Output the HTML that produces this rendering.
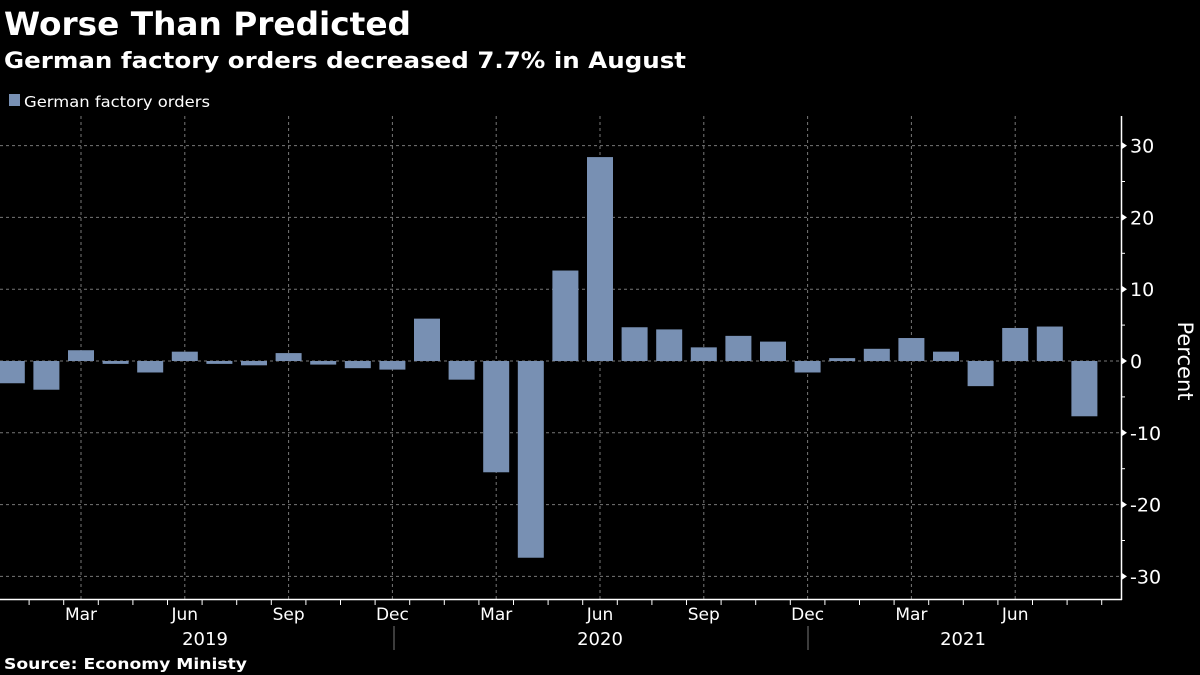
<!DOCTYPE html>
<html><head><meta charset="utf-8"><style>
body{margin:0;background:#000;width:1200px;height:675px;overflow:hidden}
svg{display:block;font-family:"DejaVu Sans","Liberation Sans",sans-serif}
</style></head><body>
<svg id="s" width="1200" height="675" xmlns="http://www.w3.org/2000/svg">
<text x="4" y="35" fill="#fff" font-size="32" font-weight="bold" textLength="407" lengthAdjust="spacingAndGlyphs">Worse Than Predicted</text>
<text x="4" y="68" fill="#fff" font-size="22" font-weight="bold" textLength="682" lengthAdjust="spacingAndGlyphs">German factory orders decreased 7.7% in August</text>
<rect x="9" y="94" width="11" height="12" fill="#7890b3"/>
<text x="24" y="107" fill="#fff" font-size="15" textLength="186" lengthAdjust="spacingAndGlyphs">German factory orders</text>
<text x="4" y="669" fill="#fff" font-size="15" font-weight="bold" textLength="243" lengthAdjust="spacingAndGlyphs">Source: Economy Ministy</text>
<text transform="translate(1178,361) rotate(90)" text-anchor="middle" fill="#fff" font-size="21">Percent</text>
</svg>
<script>
const s=document.getElementById('s'),NS='http://www.w3.org/2000/svg';
function el(t,a,txt){const e=document.createElementNS(NS,t);for(const k in a)e.setAttribute(k,a[k]);if(txt!=null)e.textContent=txt;s.appendChild(e);return e;}
const y0=361,k=7.18,x0=11.8,dx=34.6;
const Y=v=>y0-v*k;
[30,20,10,0,-10,-20,-30].forEach(v=>{
 el('line',{x1:0,x2:1121,y1:Y(v),y2:Y(v),stroke:'#777','stroke-dasharray':'3,3','stroke-width':1});
 el('text',{x:1130,y:Y(v)+7,fill:'#fff','font-size':19},v);
 el('path',{d:`M1121 ${Y(v)-4}L1127 ${Y(v)}L1121 ${Y(v)+4}Z`,fill:'#fff'});
});
for(let v=-35;v<=35;v+=5){if(Y(v)>116&&Y(v)<599)el('line',{x1:1121,x2:1125,y1:Y(v),y2:Y(v),stroke:'#fff'});}
const labs=['Mar','Jun','Sep','Dec'];
for(let i=2;i<32;i+=3){const x=x0+i*dx;
 el('line',{x1:x,x2:x,y1:116,y2:599,stroke:'#777','stroke-dasharray':'3,3'});
 el('text',{x:x,y:620,fill:'#fff','font-size':17,'text-anchor':'middle'},labs[((i-2)/3)%4]);}
const vals=[-3.1,-4,1.5,-0.4,-1.6,1.3,-0.4,-0.6,1.1,-0.5,-1.0,-1.2,5.9,-2.6,-15.5,-27.4,12.6,28.4,4.7,4.4,1.9,3.5,2.7,-1.6,0.4,1.7,3.2,1.3,-3.5,4.6,4.8,-7.7];
vals.forEach((v,i)=>{const x=x0+i*dx-13;el('rect',{x:x,y:Math.min(Y(v),y0),width:26,height:Math.abs(v*k),fill:'#7890b3'});});
el('line',{x1:0,x2:1122,y1:599.5,y2:599.5,stroke:'#fff','stroke-width':1.5});
el('line',{x1:1121.5,x2:1121.5,y1:116,y2:600,stroke:'#fff','stroke-width':1.5});
for(let i=0;i<=32;i++){const x=x0+(i-0.5)*dx;if(x>0)el('line',{x1:x,x2:x,y1:599,y2:605,stroke:'#fff'});}
[394,808].forEach(x=>el('line',{x1:x,x2:x,y1:626,y2:650,stroke:'#777'}));
[['2019',205],['2020',600],['2021',963]].forEach(a=>el('text',{x:a[1],y:645,fill:'#fff','font-size':18,'text-anchor':'middle'},a[0]));
</script>
</body></html>
